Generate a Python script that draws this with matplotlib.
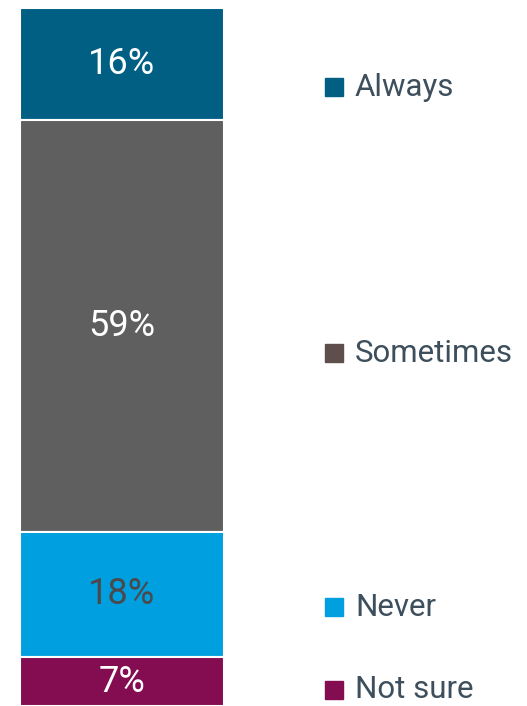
import matplotlib.pyplot as plt

categories = ['Always', 'Sometimes', 'Never', 'Not sure']
values = [16, 59, 18, 7]
bar_colors = ['#005F83', '#5F5F5F', '#009FDF', '#830D50']
legend_colors = ['#005F83', '#5E4F4C', '#009FDF', '#830D50']
label_colors = ['white', 'white', '#4A4A4C', 'white']

# legend row positions (figure pixels from top)
legend_y = [87, 353, 607, 690]

W, H = 527, 706
fig = plt.figure(figsize=(W / 100, H / 100), dpi=100)
ax = fig.add_axes([20 / W, 0, 204 / W, (H - 8) / H])

bottom = 100
for val, col, tcol in zip(values, bar_colors, label_colors):
    bottom -= val
    ax.bar(0, val, bottom=bottom, width=1, color=col, edgecolor='white', linewidth=1.5)
    ax.text(0, bottom + val / 2, f'{val}%', ha='center', va='center',
            color=tcol, fontsize=26, family='Roboto')

ax.set_xlim(-0.5, 0.5)
ax.set_ylim(0, 100)
ax.axis('off')

for cat, col, y in zip(categories, legend_colors, legend_y):
    fy = 1 - y / H
    fig.lines.append(plt.Line2D([334 / W], [fy], marker='s', markersize=12.5, color=col,
                                linestyle='none', transform=fig.transFigure))
    fig.text(355 / W, fy, cat, ha='left', va='center', color='#3D4F5C',
             fontsize=22.5, family='Roboto')

fig.savefig('out.png', dpi=100)
